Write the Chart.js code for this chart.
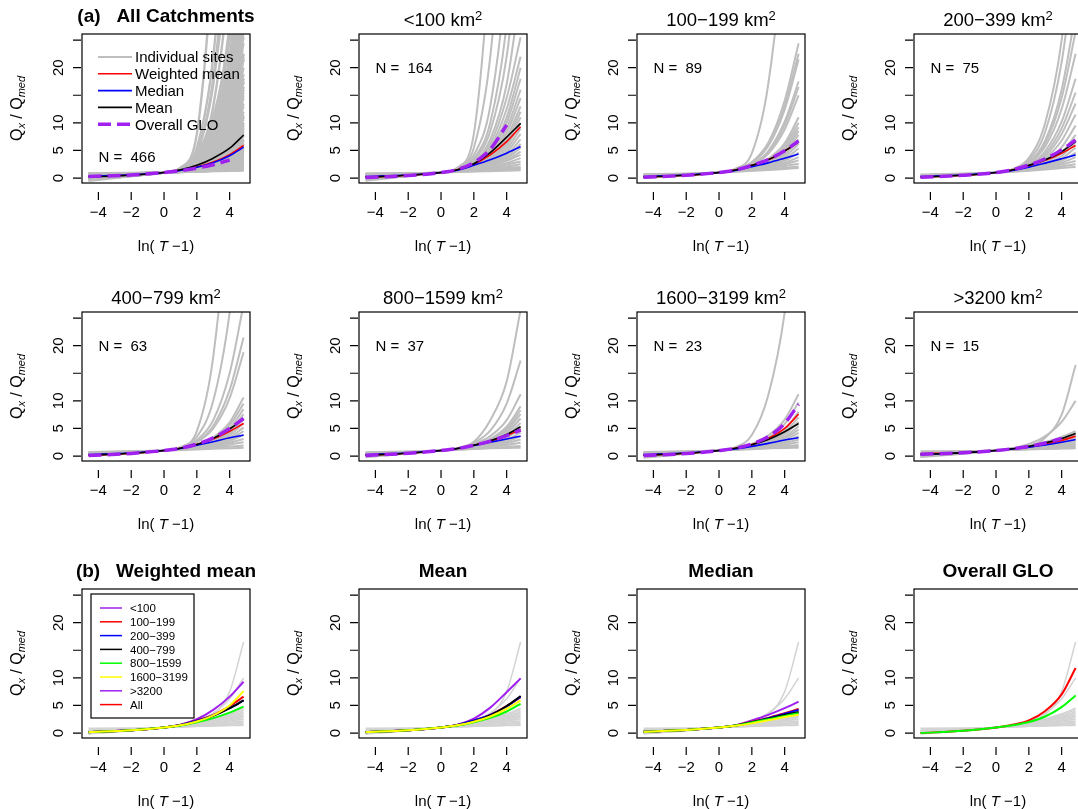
<!DOCTYPE html>
<html>
<head>
<meta charset="utf-8">
<script src="https://cdn.jsdelivr.net/npm/chart.js@4.4.1/dist/chart.umd.min.js"></script>
<style>
  html, body { margin: 0; padding: 0; background: #fff; overflow: hidden; }
  #wrap { position: relative; width: 1078px; height: 809px; overflow: hidden; }
  #wrap canvas { position: absolute; }
</style>
</head>
<body>
<div id="wrap"></div>
<script>
// every curve is given at these ln(T-1) positions
const XS = [-4.6, -2, 0, 1, 2, 3, 4, 4.85];

const X_TICKS = [-4, -2, 0, 2, 4];
const X_TICK_LABELS = ['\u22124', '\u22122', '0', '2', '4'];
const Y_TICKS = [0, 5, 10, 15, 20, 25];
const Y_TICK_LABELS = ['0', '5', '10', '', '20', ''];

const GROUPS = ['All', '<100', '100\u2212199', '200\u2212399', '400\u2212799', '800\u22121599', '1600\u22123199', '>3200'];
const N_SITES = [466, 164, 89, 75, 63, 37, 23, 15];

// individual site growth curves, one group each
const SITES_LT100 = [
  [0.85, 0.9, 1, 1.9, 8.0, 40, 90, 150],
  [0.7, 0.82, 1, 1.8, 5.5, 22, 60, 120],
  [0.6, 0.75, 1, 1.7, 4.2, 13, 38, 80],
  [0.5, 0.7, 1, 1.6, 3.6, 10, 28, 60],
  [0.45, 0.65, 1, 1.6, 3.3, 8.5, 22, 45],
  [0.4, 0.62, 1, 1.55, 3.0, 7.0, 17, 34],
  [0.4, 0.62, 1, 1.5, 2.8, 6.2, 14.5, 25.5],
  [0.35, 0.6, 1, 1.5, 2.7, 5.6, 12.5, 22],
  [0.3, 0.58, 1, 1.5, 2.6, 5.2, 11, 20],
  [0.3, 0.58, 1, 1.45, 2.5, 4.8, 10, 18],
  [0.25, 0.55, 1, 1.45, 2.4, 4.5, 9, 16],
  [0.2, 0.53, 1, 1.45, 2.35, 4.2, 8.2, 14.5],
  [0.2, 0.52, 1, 1.42, 2.25, 3.9, 7.4, 13],
  [0.15, 0.5, 1, 1.42, 2.2, 3.7, 6.8, 12],
  [0.1, 0.48, 1, 1.4, 2.15, 3.5, 6.3, 11],
  [0.1, 0.48, 1, 1.4, 2.1, 3.3, 5.8, 10],
  [0.05, 0.45, 1, 1.4, 2.0, 3.1, 5.2, 9],
  [0.0, 0.43, 1, 1.38, 1.95, 2.9, 4.7, 8],
  [-0.1, 0.4, 1, 1.37, 1.9, 2.7, 4.2, 7],
  [0.0, 0.45, 1, 1.35, 1.8, 2.5, 3.8, 6.2],
  [-0.2, 0.4, 1, 1.36, 1.8, 2.45, 3.5, 5.5],
  [0.1, 0.5, 1, 1.32, 1.7, 2.25, 3.2, 4.8],
  [-0.3, 0.38, 1, 1.35, 1.75, 2.3, 3.1, 4.2],
  [0.2, 0.58, 1, 1.28, 1.6, 2.0, 2.7, 3.6],
  [0.0, 0.5, 1, 1.3, 1.6, 1.95, 2.45, 3.0],
  [0.4, 0.65, 1, 1.2, 1.45, 1.75, 2.1, 2.5],
  [0.5, 0.72, 1, 1.17, 1.35, 1.55, 1.8, 2.0],
  [0.6, 0.8, 1, 1.12, 1.25, 1.38, 1.5, 1.6],
  [0.75, 0.85, 1, 1.08, 1.17, 1.25, 1.33, 1.4],
  [-0.5, 0.35, 1, 1.3, 1.5, 1.62, 1.72, 1.8]
];
const SITES_100_199 = [
  [0.6, 0.75, 1, 1.7, 4.5, 17, 45, 90],
  [0.45, 0.66, 1, 1.5, 2.9, 6.4, 14, 24.4],
  [0.4, 0.63, 1, 1.5, 2.8, 6.0, 13, 22.5],
  [0.35, 0.62, 1, 1.5, 2.75, 5.8, 12.4, 21.5],
  [0.3, 0.6, 1, 1.45, 2.5, 4.9, 10.2, 17.5],
  [0.3, 0.58, 1, 1.45, 2.45, 4.7, 9.6, 16.5],
  [0.25, 0.56, 1, 1.42, 2.4, 4.4, 8.8, 15],
  [0.2, 0.53, 1, 1.4, 2.15, 3.5, 6.3, 11],
  [0.2, 0.52, 1, 1.38, 2.1, 3.3, 5.8, 10],
  [0.15, 0.5, 1, 1.38, 2.0, 3.1, 5.3, 9.2],
  [0.1, 0.48, 1, 1.37, 1.95, 3.0, 5.0, 8.5],
  [0.1, 0.47, 1, 1.36, 1.9, 2.85, 4.6, 7.8],
  [0.05, 0.46, 1, 1.35, 1.85, 2.7, 4.2, 7.0],
  [0.1, 0.5, 1, 1.33, 1.8, 2.5, 3.8, 6.2],
  [0.15, 0.52, 1, 1.32, 1.72, 2.35, 3.4, 5.4],
  [0.2, 0.55, 1, 1.3, 1.65, 2.2, 3.1, 4.6],
  [0.3, 0.6, 1, 1.28, 1.6, 2.05, 2.75, 3.8],
  [0.4, 0.65, 1, 1.25, 1.55, 1.95, 2.5, 3.2],
  [0.5, 0.7, 1, 1.22, 1.45, 1.75, 2.2, 2.6],
  [0.6, 0.75, 1, 1.18, 1.38, 1.6, 1.85, 2.1],
  [0.7, 0.82, 1, 1.14, 1.3, 1.45, 1.65, 1.8]
];
const SITES_200_399 = [
  [0.55, 0.72, 1, 1.6, 3.6, 10, 25, 50],
  [0.45, 0.65, 1, 1.55, 3.2, 8.4, 21, 40],
  [0.4, 0.62, 1, 1.5, 2.9, 6.8, 16, 30],
  [0.35, 0.6, 1, 1.5, 2.8, 6.3, 14.5, 26.5],
  [0.3, 0.58, 1, 1.48, 2.7, 5.7, 12.5, 22.5],
  [0.3, 0.57, 1, 1.45, 2.5, 4.9, 10.2, 18],
  [0.25, 0.55, 1, 1.42, 2.4, 4.4, 9, 15.5],
  [0.2, 0.53, 1, 1.42, 2.3, 4.0, 8, 13.5],
  [0.2, 0.52, 1, 1.4, 2.2, 3.6, 6.8, 11.5],
  [0.15, 0.5, 1, 1.38, 2.05, 3.2, 5.6, 9.5],
  [0.1, 0.48, 1, 1.36, 1.9, 2.85, 4.6, 7.8],
  [0.1, 0.48, 1, 1.34, 1.8, 2.6, 4.0, 6.5],
  [0.2, 0.52, 1, 1.32, 1.72, 2.35, 3.5, 5.5],
  [0.25, 0.56, 1, 1.3, 1.65, 2.2, 3.1, 4.6],
  [0.35, 0.6, 1, 1.28, 1.6, 2.05, 2.75, 3.8],
  [0.45, 0.66, 1, 1.24, 1.52, 1.9, 2.45, 3.1],
  [0.55, 0.72, 1, 1.2, 1.42, 1.72, 2.1, 2.5],
  [0.65, 0.8, 1, 1.16, 1.33, 1.55, 1.8, 2.0]
];
const SITES_400_799 = [
  [0.7, 0.8, 1, 1.6, 4.5, 18, 50, 100],
  [0.55, 0.7, 1, 1.55, 3.5, 10, 26, 50],
  [0.45, 0.65, 1, 1.5, 2.9, 6.5, 15, 27.5],
  [0.4, 0.62, 1, 1.48, 2.6, 5.5, 12, 21.5],
  [0.35, 0.6, 1, 1.45, 2.5, 5.0, 10.5, 18.8],
  [0.2, 0.53, 1, 1.4, 2.1, 3.4, 6.1, 10.6],
  [0.2, 0.52, 1, 1.38, 2.05, 3.2, 5.6, 9.5],
  [0.15, 0.5, 1, 1.37, 1.95, 3.0, 5.0, 8.5],
  [0.1, 0.48, 1, 1.36, 1.9, 2.8, 4.5, 7.6],
  [0.1, 0.48, 1, 1.35, 1.85, 2.65, 4.1, 6.8],
  [0.15, 0.5, 1, 1.33, 1.78, 2.5, 3.7, 6.0],
  [0.2, 0.53, 1, 1.32, 1.7, 2.3, 3.3, 5.2],
  [0.25, 0.56, 1, 1.3, 1.65, 2.15, 3.0, 4.5],
  [0.35, 0.6, 1, 1.27, 1.58, 2.0, 2.7, 3.8],
  [0.45, 0.66, 1, 1.24, 1.5, 1.85, 2.4, 3.1],
  [0.55, 0.72, 1, 1.2, 1.42, 1.7, 2.1, 2.5],
  [0.65, 0.8, 1, 1.15, 1.3, 1.5, 1.72, 1.9],
  [0.75, 0.86, 1, 1.1, 1.2, 1.3, 1.42, 1.5]
];
const SITES_800_1599 = [
  [0.5, 0.68, 1, 1.45, 2.6, 6.5, 13.5, 26.5],
  [0.4, 0.62, 1, 1.42, 2.4, 4.6, 9.5, 17.3],
  [0.3, 0.58, 1, 1.4, 2.15, 3.6, 6.5, 11.2],
  [0.25, 0.55, 1, 1.38, 2.0, 3.1, 5.3, 9],
  [0.2, 0.53, 1, 1.36, 1.95, 2.95, 4.9, 8.3],
  [0.15, 0.5, 1, 1.35, 1.9, 2.8, 4.5, 7.6],
  [0.1, 0.48, 1, 1.34, 1.85, 2.65, 4.1, 6.8],
  [0.2, 0.52, 1, 1.32, 1.78, 2.5, 3.7, 6.0],
  [0.25, 0.55, 1, 1.3, 1.7, 2.3, 3.3, 5.0],
  [0.3, 0.58, 1, 1.28, 1.62, 2.1, 2.9, 4.3],
  [0.4, 0.64, 1, 1.26, 1.56, 1.95, 2.6, 3.6],
  [0.5, 0.7, 1, 1.23, 1.48, 1.8, 2.3, 3.0],
  [0.6, 0.76, 1, 1.18, 1.38, 1.65, 2.0, 2.4],
  [0.7, 0.82, 1, 1.13, 1.28, 1.45, 1.65, 1.8],
  [-0.2, 0.45, 1, 1.2, 1.33, 1.42, 1.47, 1.5]
];
const SITES_1600_3199 = [
  [0.7, 0.8, 1, 1.6, 3.8, 11, 26, 50],
  [0.3, 0.58, 1, 1.42, 2.2, 3.7, 6.6, 11.2],
  [0.25, 0.55, 1, 1.4, 2.1, 3.3, 5.8, 9.7],
  [0.2, 0.52, 1, 1.38, 1.95, 2.9, 4.8, 8.0],
  [0.15, 0.5, 1, 1.36, 1.88, 2.7, 4.3, 7.0],
  [0.2, 0.52, 1, 1.34, 1.8, 2.55, 3.9, 6.2],
  [0.25, 0.55, 1, 1.32, 1.72, 2.35, 3.5, 5.4],
  [0.3, 0.58, 1, 1.3, 1.66, 2.2, 3.2, 4.8],
  [0.35, 0.6, 1, 1.28, 1.6, 2.1, 2.9, 4.2],
  [0.4, 0.64, 1, 1.26, 1.55, 1.95, 2.6, 3.6],
  [0.5, 0.7, 1, 1.23, 1.48, 1.8, 2.3, 3.0],
  [0.55, 0.74, 1, 1.2, 1.4, 1.68, 2.05, 2.5],
  [0.65, 0.8, 1, 1.15, 1.32, 1.52, 1.78, 2.0],
  [0.72, 0.84, 1, 1.12, 1.25, 1.4, 1.57, 1.7],
  [-0.3, 0.4, 1, 1.2, 1.32, 1.4, 1.46, 1.5]
];
const SITES_GT3200 = [
  [0.88, 0.89, 1, 1.21, 1.78, 3.33, 7.5, 16.5],
  [0.52, 0.64, 1, 1.43, 2.2, 3.62, 6.2, 10.0],
  [0.2, 0.52, 1, 1.37, 1.88, 2.56, 3.48, 4.5],
  [0.27, 0.56, 1, 1.34, 1.8, 2.42, 3.26, 4.2],
  [0.34, 0.6, 1, 1.31, 1.73, 2.29, 3.05, 3.9],
  [0.05, 0.48, 1, 1.35, 1.78, 2.3, 2.94, 3.6],
  [0.15, 0.54, 1, 1.31, 1.69, 2.16, 2.72, 3.3],
  [-0.18, 0.42, 1, 1.34, 1.71, 2.12, 2.58, 3.0],
  [0.34, 0.64, 1, 1.24, 1.54, 1.9, 2.35, 2.8],
  [0.11, 0.56, 1, 1.25, 1.53, 1.84, 2.18, 2.5],
  [-0.14, 0.51, 1, 1.25, 1.49, 1.74, 1.99, 2.2],
  [0.41, 0.71, 1, 1.17, 1.35, 1.56, 1.79, 2.0],
  [-0.06, 0.6, 1, 1.17, 1.33, 1.47, 1.6, 1.7],
  [0.53, 0.79, 1, 1.1, 1.21, 1.31, 1.41, 1.5],
  [0.03, 0.68, 1, 1.12, 1.21, 1.29, 1.35, 1.4]
];
// where the 466 site curves of panel (a) overlap into a solid grey mass
const ALL_DENSE_LOW = [0.75, 0.85, 1, 1.08, 1.17, 1.25, 1.33, 1.4];
const ALL_DENSE_HIGH = [0.55, 0.72, 1, 1.6, 3.4, 9.5, 23, 40];

// group summary curves, rows follow GROUPS
const WMEAN = [
  [0.31, 0.55, 1, 1.4, 2.01, 2.91, 4.25, 5.9],
  [0.15, 0.5, 1, 1.5, 2.5, 4.2, 6.6, 9.3],
  [0.2, 0.5, 1, 1.45, 2.3, 3.3, 4.9, 6.6],
  [0.2, 0.5, 1, 1.45, 2.25, 3.2, 4.5, 5.9],
  [0.15, 0.5, 1, 1.4, 2.1, 3.1, 4.5, 5.9],
  [0.15, 0.5, 1, 1.35, 1.95, 2.7, 3.7, 4.8],
  [0.15, 0.5, 1, 1.4, 2.1, 3.2, 5.0, 7.6],
  [0.41, 0.64, 1, 1.28, 1.65, 2.15, 2.83, 3.6]
];
const MEDIAN = [
  [0.35, 0.57, 1, 1.38, 1.95, 2.79, 4.05, 5.6],
  [0.25, 0.55, 1, 1.4, 2.3, 3.3, 4.5, 5.7],
  [0.25, 0.55, 1, 1.35, 2.05, 2.75, 3.6, 4.35],
  [0.25, 0.55, 1, 1.35, 1.95, 2.7, 3.5, 4.2],
  [0.25, 0.55, 1, 1.35, 1.95, 2.6, 3.3, 3.8],
  [0.25, 0.55, 1, 1.35, 1.9, 2.5, 3.1, 3.6],
  [0.25, 0.55, 1, 1.3, 1.75, 2.3, 2.9, 3.3],
  [0.27, 0.6, 1, 1.27, 1.6, 2.0, 2.5, 3.0]
];
const MEAN = [
  [0.2, 0.5, 1, 1.5, 2.3, 3.6, 5.4, 7.8],
  [0.15, 0.5, 1, 1.5, 2.6, 4.6, 7.4, 9.9],
  [0.2, 0.5, 1, 1.45, 2.3, 3.3, 4.9, 6.5],
  [0.2, 0.5, 1, 1.45, 2.3, 3.3, 4.8, 6.6],
  [0.15, 0.5, 1, 1.4, 2.1, 3.2, 4.9, 6.7],
  [0.15, 0.5, 1, 1.35, 1.95, 2.75, 3.9, 5.3],
  [0.15, 0.5, 1, 1.4, 2.05, 3.0, 4.4, 5.9],
  [0.29, 0.57, 1, 1.33, 1.78, 2.38, 3.19, 4.1]
];
const GLO = [
  [0.27, 0.56, 1, 1.34, 1.8, 2.42, 3.26, null],
  [0.1, 0.45, 1, 1.55, 2.8, 5.2, 9.6, null],
  [0.15, 0.5, 1, 1.45, 2.3, 3.35, 4.95, 6.7],
  [0.15, 0.5, 1, 1.5, 2.35, 3.5, 5.1, 6.9],
  [0.1, 0.48, 1, 1.42, 2.15, 3.3, 5.0, 6.8],
  [0.1, 0.5, 1, 1.35, 1.95, 2.7, 3.7, 4.7],
  [0.1, 0.45, 1, 1.4, 2.2, 3.5, 5.9, 9.4],
  [0.33, 0.59, 1, 1.32, 1.76, 2.35, 3.2, null]
];
const OVERALL_GLO_RED = [0.0, 0.4, 1, 1.5, 2.3, 4.0, 7.0, 11.8];
const OVERALL_GLO_GREEN = [0.0, 0.4, 1, 1.4, 2.0, 3.0, 4.7, 6.8];

const LEGEND_A = ['Individual sites', 'Weighted mean', 'Median', 'Mean', 'Overall GLO'];
const LEGEND_B = ['<100', '100\u2212199', '200\u2212399', '400\u2212799', '800\u22121599', '1600\u22123199', '>3200', 'All'];

const GRAY = '#BEBEBE', LIGHTGRAY = '#D3D3D3', PURPLE = '#A020F0';
const RED = '#FF0000', BLUE = '#0000FF', GREEN = '#00FF00', YELLOW = '#FFFF00';
const GROUP_COLORS = [RED, PURPLE, RED, BLUE, '#000000', GREEN, YELLOW, PURPLE];
const LEGEND_B_COLORS = [PURPLE, RED, BLUE, '#000000', GREEN, YELLOW, PURPLE, RED];
const FONT = '"Liberation Sans", Arial, Helvetica, sans-serif';

const GROUP_SITES = [null, SITES_LT100, SITES_100_199, SITES_200_399, SITES_400_799,
  SITES_800_1599, SITES_1600_3199, SITES_GT3200];
GROUP_SITES[0] = [].concat(...GROUP_SITES.slice(1));

function curve(vals, color, width, dash) {
  return {
    data: XS.map((x, i) => ({ x: x, y: vals[i] })),
    borderColor: color,
    borderWidth: width,
    borderDash: dash || [],
    borderCapStyle: 'butt',
    pointRadius: 0,
    fill: false,
    cubicInterpolationMode: 'monotone',
    clip: 0
  };
}

// chart.js paints the first dataset on top, so give later ones a lower order
function stack(ds) {
  ds.forEach((d, i) => { d.order = ds.length - i; });
  return ds;
}

function topDatasets(g) {
  const ds = [];
  if (g === 0) {
    ds.push(curve(ALL_DENSE_LOW, 'rgba(0,0,0,0)', 1));
    const hi = curve(ALL_DENSE_HIGH, 'rgba(0,0,0,0)', 1);
    hi.fill = '-1';
    hi.backgroundColor = GRAY;
    ds.push(hi);
  }
  const w = g === 0 ? 2.4 : 2.0;
  GROUP_SITES[g].forEach(c => ds.push(curve(c, GRAY, w)));
  ds.push(curve(WMEAN[g], RED, 1.6));
  ds.push(curve(MEDIAN[g], BLUE, 1.6));
  ds.push(curve(MEAN[g], '#000000', 1.6));
  ds.push(curve(GLO[g], PURPLE, 3.5, [13, 6]));
  return stack(ds);
}

function bottomDatasets(stat) {
  const ds = SITES_GT3200.map(c => curve(c, LIGHTGRAY, 1.5));
  if (stat) {
    for (let g = 1; g <= 6; g++) ds.push(curve(stat[g], GROUP_COLORS[g], 2));
  } else {
    ds.push(curve(OVERALL_GLO_RED, RED, 2));
    ds.push(curve(OVERALL_GLO_GREEN, GREEN, 2));
  }
  return stack(ds);
}

const PANELS = [
  { title: '(a)   All Catchments', bold: true, group: 0, legend: 'a', nY: 3.85 },
  { title: '<100 km', group: 1, nY: 20 },
  { title: '100\u2212199 km', group: 2, nY: 20 },
  { title: '200\u2212399 km', group: 3, nY: 20 },
  { title: '400\u2212799 km', group: 4, nY: 20 },
  { title: '800\u22121599 km', group: 5, nY: 20 },
  { title: '1600\u22123199 km', group: 6, nY: 20 },
  { title: '>3200 km', group: 7, nY: 20 },
  { title: '(b)   Weighted mean', bold: true, stat: WMEAN, legend: 'b' },
  { title: 'Mean', bold: true, stat: MEAN },
  { title: 'Median', bold: true, stat: MEDIAN },
  { title: 'Overall GLO', bold: true, stat: null }
];

function drawParts(ctx, parts, x, y) {
  let w = 0;
  parts.forEach(p => { ctx.font = p.font; w += ctx.measureText(p.text).width; });
  let cx = x - w / 2;
  ctx.textAlign = 'left';
  parts.forEach(p => {
    ctx.font = p.font;
    ctx.fillText(p.text, cx, y + (p.dy || 0));
    cx += ctx.measureText(p.text).width;
  });
}

function makeFrame(p) {
  return {
    id: 'rframe',
    afterDatasetsDraw(chart) {
      const ctx = chart.ctx, a = chart.chartArea;
      const x = chart.scales.x, y = chart.scales.y;
      ctx.save();
      ctx.strokeStyle = '#000';
      ctx.fillStyle = '#000';
      ctx.lineWidth = 1.2;
      ctx.setLineDash([]);
      ctx.strokeRect(a.left, a.top, a.right - a.left, a.bottom - a.top);

      // ticks
      ctx.beginPath();
      X_TICKS.forEach(v => {
        const px = x.getPixelForValue(v);
        ctx.moveTo(px, a.bottom + 9);
        ctx.lineTo(px, a.bottom + 17);
      });
      Y_TICKS.forEach(v => {
        const py = y.getPixelForValue(v);
        ctx.moveTo(a.left - 1, py);
        ctx.lineTo(a.left - 9, py);
      });
      ctx.stroke();

      ctx.textBaseline = 'alphabetic';
      ctx.font = '15px ' + FONT;
      ctx.textAlign = 'center';
      X_TICKS.forEach((v, i) => ctx.fillText(X_TICK_LABELS[i], x.getPixelForValue(v), a.bottom + 34));
      Y_TICKS.forEach((v, i) => {
        if (!Y_TICK_LABELS[i]) return;
        ctx.save();
        ctx.translate(a.left - 19, y.getPixelForValue(v));
        ctx.rotate(-Math.PI / 2);
        ctx.fillText(Y_TICK_LABELS[i], 0, 0);
        ctx.restore();
      });

      // axis titles
      const cxm = (a.left + a.right) / 2;
      drawParts(ctx, [
        { text: 'ln( ', font: '15px ' + FONT },
        { text: 'T', font: 'italic 15px ' + FONT },
        { text: ' \u22121)', font: '15px ' + FONT }
      ], cxm, a.bottom + 68);
      ctx.save();
      ctx.translate(a.left - 60, (a.top + a.bottom) / 2);
      ctx.rotate(-Math.PI / 2);
      drawParts(ctx, [
        { text: 'Q', font: '16px ' + FONT },
        { text: 'x', font: 'italic 11px ' + FONT, dy: 3 },
        { text: ' / ', font: '16px ' + FONT },
        { text: 'Q', font: '16px ' + FONT },
        { text: 'med', font: 'italic 11px ' + FONT, dy: 3 }
      ], 0, 0);
      ctx.restore();

      // panel title
      if (p.bold) {
        drawParts(ctx, [{ text: p.title, font: 'bold 19px ' + FONT }], cxm, a.top - 12);
      } else {
        drawParts(ctx, [
          { text: p.title, font: '18.5px ' + FONT },
          { text: '2', font: '13px ' + FONT, dy: -6 }
        ], cxm, a.top - 8.5);
      }

      // site count
      if (p.group !== undefined) {
        ctx.font = '15px ' + FONT;
        ctx.textAlign = 'left';
        ctx.fillText('N =  ' + N_SITES[p.group], x.getPixelForValue(-4.0), y.getPixelForValue(p.nY) + 5.5);
      }

      // legends
      if (p.legend === 'a') {
        const styles = [[GRAY, 1.8, []], [RED, 1.6, []], [BLUE, 1.6, []], ['#000', 1.6, []], [PURPLE, 3.5, [13, 6]]];
        ctx.font = '15px ' + FONT;
        ctx.textAlign = 'left';
        LEGEND_A.forEach((lab, i) => {
          const ly = a.top + 23 + 16.8 * i;
          ctx.beginPath();
          ctx.strokeStyle = styles[i][0];
          ctx.lineWidth = styles[i][1];
          ctx.setLineDash(styles[i][2]);
          ctx.moveTo(a.left + 16, ly);
          ctx.lineTo(a.left + 50, ly);
          ctx.stroke();
          ctx.setLineDash([]);
          ctx.fillStyle = '#000';
          ctx.fillText(lab, a.left + 53, ly + 5.4);
        });
      }
      if (p.legend === 'b') {
        ctx.fillStyle = '#fff';
        ctx.fillRect(a.left + 9, a.top + 5, 103, 124);
        ctx.strokeStyle = '#000';
        ctx.lineWidth = 1.2;
        ctx.strokeRect(a.left + 9, a.top + 5, 103, 124);
        ctx.font = '11.5px ' + FONT;
        ctx.textAlign = 'left';
        LEGEND_B.forEach((lab, i) => {
          const ly = a.top + 19 + 13.8 * i;
          ctx.beginPath();
          ctx.strokeStyle = LEGEND_B_COLORS[i];
          ctx.lineWidth = 1.5;
          ctx.moveTo(a.left + 18, ly);
          ctx.lineTo(a.left + 40, ly);
          ctx.stroke();
          ctx.fillStyle = '#000';
          ctx.fillText(lab, a.left + 48, ly + 4.2);
        });
      }
      ctx.restore();
    }
  };
}

const COL_LEFT = [0, 277, 555, 832];
const ROW_TOP = [0, 278, 555];
const wrap = document.getElementById('wrap');

PANELS.forEach((p, i) => {
  const cv = document.createElement('canvas');
  cv.width = 277;
  cv.height = 278;
  cv.style.left = COL_LEFT[i % 4] + 'px';
  cv.style.top = ROW_TOP[Math.floor(i / 4)] + 'px';
  wrap.appendChild(cv);
  const datasets = p.group !== undefined ? topDatasets(p.group) : bottomDatasets(p.stat);
  new Chart(cv.getContext('2d'), {
    type: 'line',
    data: { datasets: datasets },
    options: {
      responsive: false,
      animation: false,
      devicePixelRatio: 1,
      events: [],
      layout: { padding: { left: 82, top: 34, right: 27, bottom: 95 } },
      scales: {
        x: { type: 'linear', min: -5.0, max: 5.24, display: false },
        y: { type: 'linear', min: -0.9, max: 26.1, display: false }
      },
      plugins: { legend: { display: false }, tooltip: { enabled: false } }
    },
    plugins: [makeFrame(p)]
  });
});
</script>
</body>
</html>
